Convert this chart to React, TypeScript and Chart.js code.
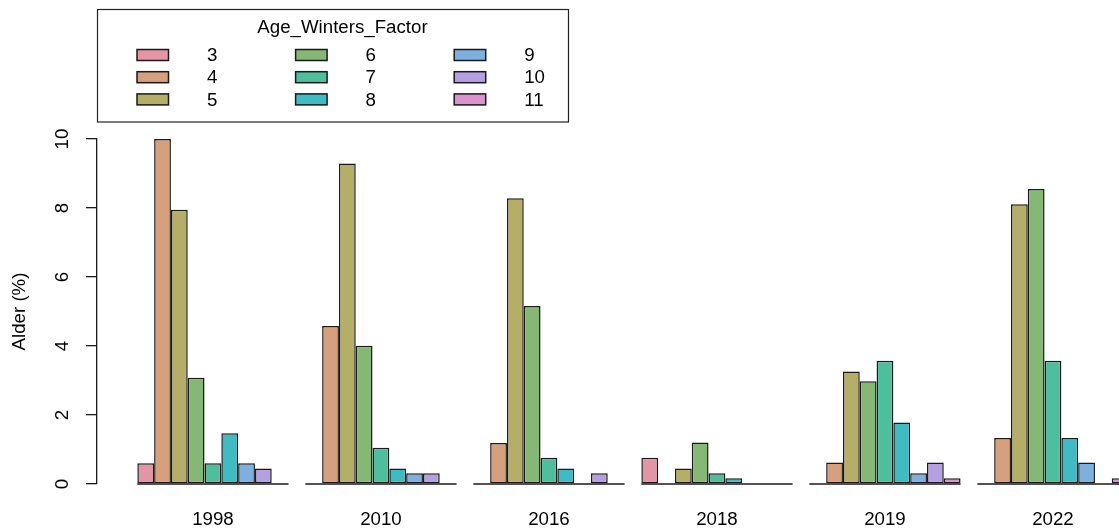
import React, { useEffect, useRef } from 'react';
import { Chart, registerables } from 'chart.js';

Chart.register(...registerables);

// ---- data ----
const years = ['1998', '2010', '2016', '2018', '2019', '2022'];
const ageClasses = ['3', '4', '5', '6', '7', '8', '9', '10', '11'];
const age3 = [0.6, 0, 0, 0.76, 0, 0];
const age4 = [10.0, 4.58, 1.19, 0, 0.62, 1.33];
const age5 = [7.95, 9.29, 8.28, 0.45, 3.26, 8.11];
const age6 = [3.08, 4.01, 5.16, 1.2, 2.98, 8.55];
const age7 = [0.6, 1.05, 0.76, 0.31, 3.57, 3.57];
const age8 = [1.47, 0.45, 0.45, 0.17, 1.78, 1.33];
const age9 = [0.6, 0.31, 0, 0, 0.31, 0.62];
const age10 = [0.45, 0.31, 0.31, 0, 0.62, 0];
const age11 = [0, 0, 0, 0, 0.17, 0.17];
const seriesValues = [age3, age4, age5, age6, age7, age8, age9, age10, age11];
const yTickValues = [0, 2, 4, 6, 8, 10];
const legendTitle = 'Age_Winters_Factor';
const yTitle = 'Alder (%)';

const colors = [
  '#E495A5', '#D69F7D', '#B5AE67', '#86B875', '#4EBF9C',
  '#3EBCC4', '#7DB0DE', '#B4A0E1', '#DB93CD',
];

const FONT_FAMILY = '"Liberation Sans", Arial, Helvetica, sans-serif';
const FS = 18.7;
const W = 1119;
const H = 531;

const baselinePlugin = {
  id: 'groupBaseline',
  afterDatasetsDraw(chart: any) {
    const ctx = chart.ctx;
    const n = chart.data.datasets.length;
    const first = chart.getDatasetMeta(0);
    const last = chart.getDatasetMeta(n - 1);
    const y0 = chart.scales.y.getPixelForValue(0);
    ctx.save();
    ctx.strokeStyle = '#1a1a1a';
    ctx.lineWidth = 1.5;
    for (let i = 0; i < first.data.length; i++) {
      const a: any = first.data[i];
      const b: any = last.data[i];
      const l = a.x - a.width / 2;
      const r = b.x + b.width / 2;
      ctx.beginPath();
      ctx.moveTo(l, y0);
      ctx.lineTo(r, y0);
      ctx.stroke();
    }
    ctx.restore();
  },
};

const legendPlugin = {
  id: 'rLegend',
  afterDraw(chart: any) {
    const ctx = chart.ctx;
    ctx.save();
    ctx.strokeStyle = '#222';
    ctx.lineWidth = 1.2;
    ctx.strokeRect(97.5, 9.5, 471, 112.5);
    ctx.font = `${FS}px ${FONT_FAMILY}`;
    ctx.fillStyle = '#000';
    ctx.textAlign = 'center';
    ctx.textBaseline = 'middle';
    ctx.fillText(legendTitle, 342.5, 28);
    chart.data.datasets.forEach((ds: any, i: number) => {
      const col = Math.floor(i / 3);
      const row = i % 3;
      const bx = 137 + col * 158.6;
      const cy = 55 + row * 22.2;
      ctx.fillStyle = ds.backgroundColor;
      ctx.fillRect(bx, cy - 5.5, 31.5, 11);
      ctx.strokeStyle = '#1a1a1a';
      ctx.lineWidth = 1.5;
      ctx.strokeRect(bx, cy - 5.5, 31.5, 11);
      ctx.fillStyle = '#000';
      ctx.textAlign = 'left';
      ctx.textBaseline = 'middle';
      ctx.fillText(ds.label, bx + 70, cy + 1);
    });
    ctx.restore();
  },
};

export default function App() {
  const ref = useRef<HTMLCanvasElement | null>(null);

  useEffect(() => {
    if (!ref.current) return;
    Chart.defaults.font.family = FONT_FAMILY;
    Chart.defaults.font.size = FS;
    Chart.defaults.color = '#000';

    const datasets = seriesValues.map((vals, k) => ({
      label: ageClasses[k],
      data: vals.map((v, i) => ({ x: i + 1, y: v })),
      backgroundColor: colors[k],
      borderColor: '#1a1a1a',
      borderWidth: 1.5,
      borderSkipped: false,
      categoryPercentage: 0.9,
      barPercentage: 1,
    }));

    const chart = new Chart(ref.current, {
      type: 'bar',
      data: { datasets },
      options: {
        responsive: false,
        animation: false,
        layout: { padding: { top: 139, left: 0, right: 0, bottom: 0 } },
        plugins: {
          legend: { display: false },
          tooltip: { enabled: false },
        },
        scales: {
          x: {
            type: 'linear',
            offset: false,
            min: 0.31,
            max: 6.393,
            afterBuildTicks: (scale: any) => {
              scale.ticks = years.map((_, i) => ({ value: i + 1 }));
            },
            afterFit: (scale: any) => {
              scale.height = 47;
            },
            ticks: {
              includeBounds: false,
              autoSkip: false,
              maxRotation: 0,
              padding: 25,
              font: { size: FS },
              color: '#000',
              callback: (v: any) => years[Math.round(Number(v)) - 1] ?? '',
            },
            grid: { display: false, drawTicks: false },
            border: { display: false },
          },
          y: {
            type: 'linear',
            min: 0,
            max: 10,
            afterBuildTicks: (scale: any) => {
              scale.ticks = yTickValues.map((v) => ({ value: v }));
            },
            afterFit: (scale: any) => {
              scale.width = 97;
            },
            ticks: {
              minRotation: 90,
              maxRotation: 90,
              crossAlign: 'center',
              padding: 12.5,
              font: { size: FS },
              color: '#000',
              callback: (v: any) => String(v),
            },
            grid: {
              drawOnChartArea: false,
              drawTicks: true,
              tickLength: 11,
              tickColor: '#1a1a1a',
              color: '#1a1a1a',
              lineWidth: 1.3,
            },
            border: { display: true, color: '#1a1a1a', width: 1.3 },
            title: {
              display: true,
              text: yTitle,
              font: { size: FS },
              color: '#000',
              padding: { top: 9, bottom: 0 },
            },
          },
        },
      },
      plugins: [baselinePlugin, legendPlugin],
    } as any);

    return () => chart.destroy();
  }, []);

  return (
    <div style={{ position: 'absolute', left: 0, top: 0, width: W, height: H, overflow: 'hidden', background: '#fff' }}>
      <canvas ref={ref} width={W} height={H} style={{ display: 'block' }} />
    </div>
  );
}
